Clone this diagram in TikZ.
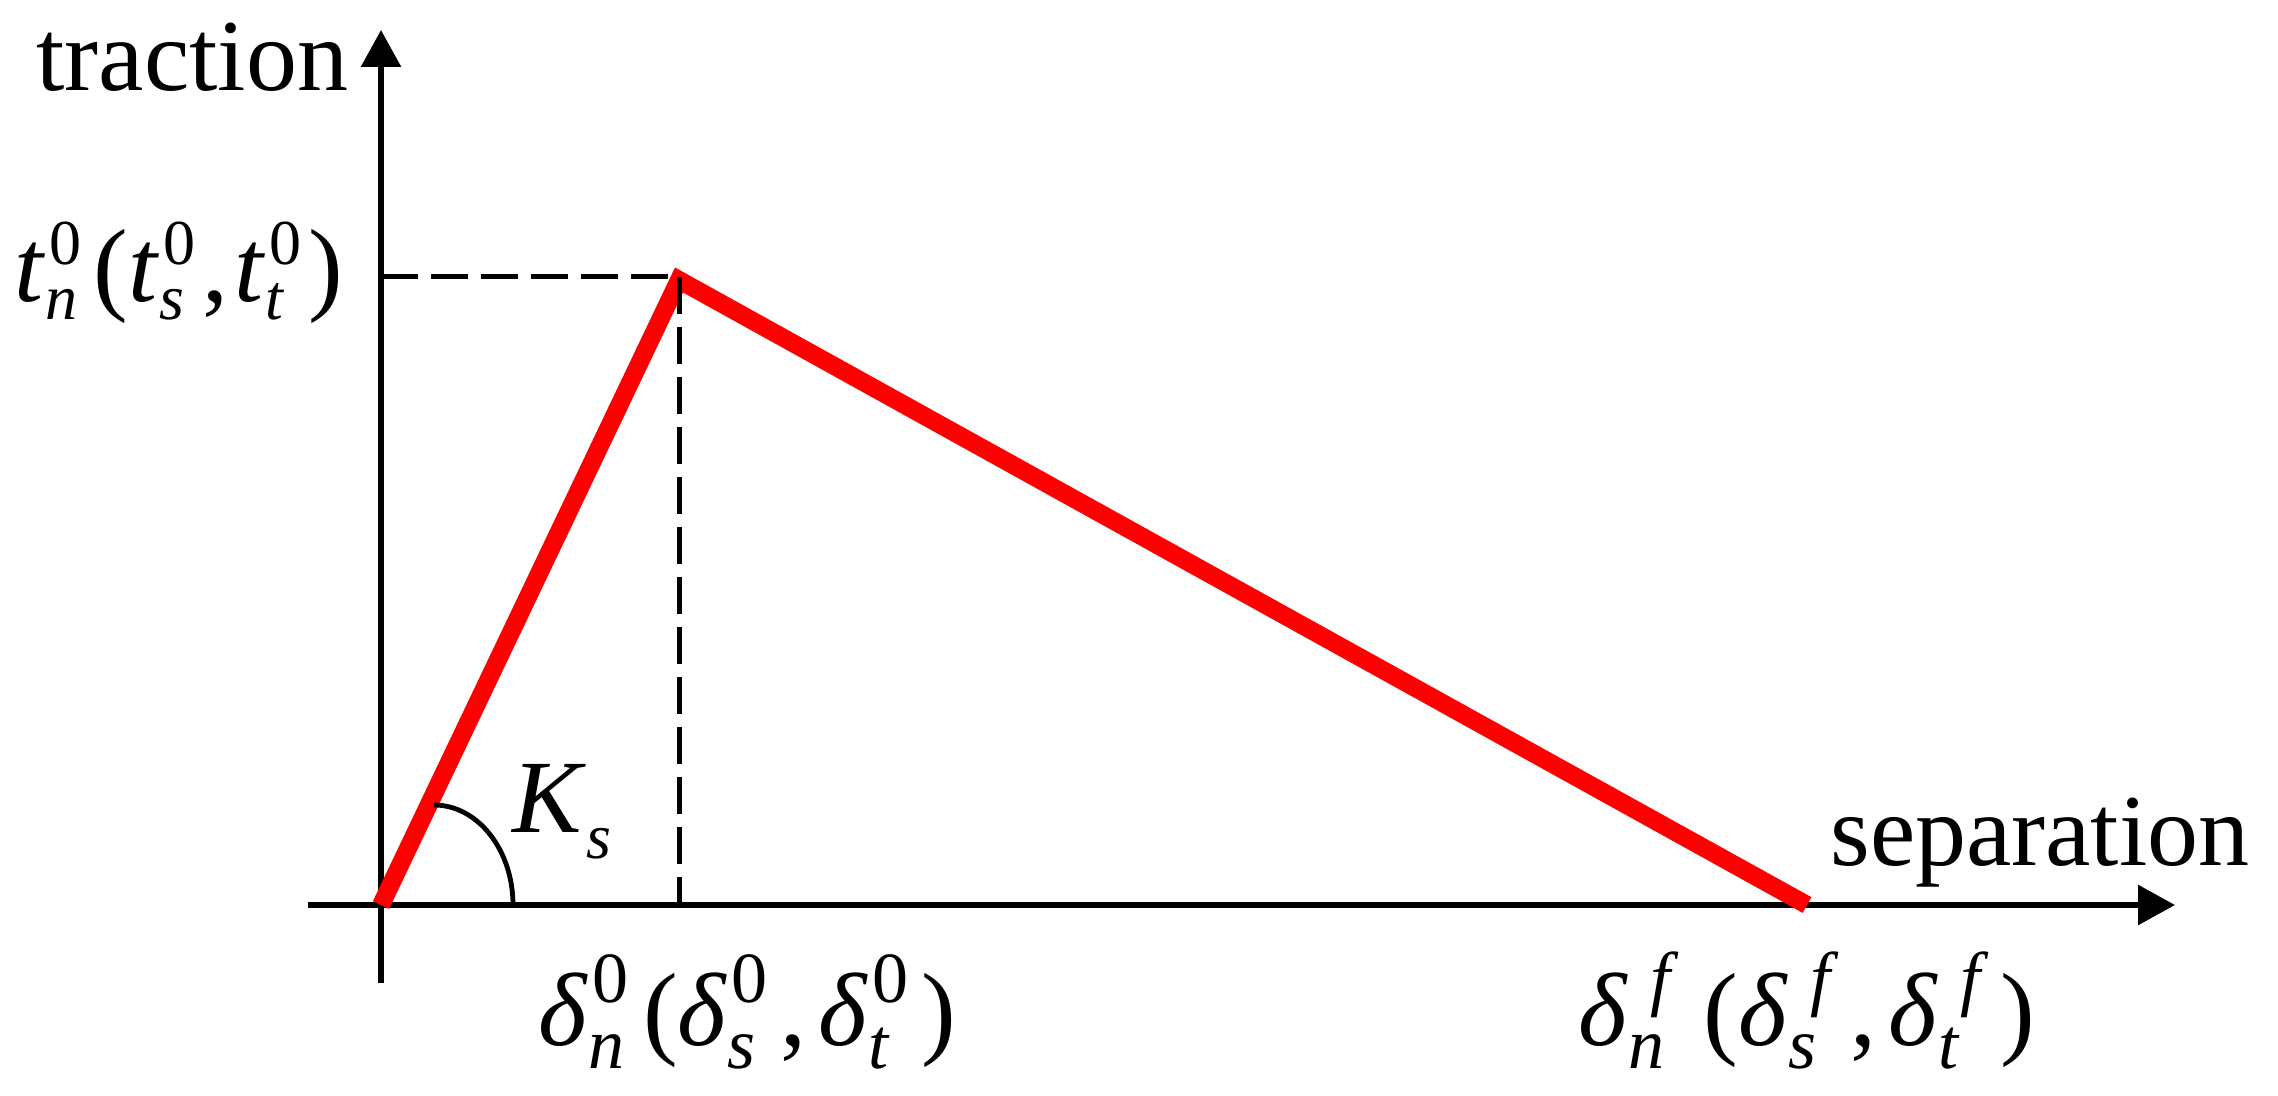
\documentclass[tikz,border=0pt]{standalone}
\usepackage{fontspec}
\setmainfont{Liberation Serif}
\usetikzlibrary{arrows.meta}
\newcommand\scr{\fontsize{32}{34}\selectfont}
\newcommand\SupRaise{0.3em}
\newcommand\SubLower{0.17em}
\newcommand\PostKern{0.1em}
\newcommand\SupSub[3]{#1\setbox0\hbox{\raisebox{\SupRaise}{\scr\kern0.06em #2}}\setbox2\hbox{\raisebox{-\SubLower}{\scr\itshape #3}}\ifdim\wd0>\wd2\relax\rlap{\box2}\box0\else\rlap{\box0}\box2\fi\kern\PostKern}
\tikzset{
  axisline/.style={line width=3pt, -{Triangle[length=18.5pt,width=19.5pt]}},
  redline/.style={line width=9pt, red},
  guide/.style={line width=2.5pt, dash pattern=on 18.5pt off 6.5pt},
  anglearc/.style={line width=2.4pt},
  lbl/.style={inner sep=0pt, font=\fontsize{52}{60}\selectfont},
}
\begin{document}
\begin{tikzpicture}[x=0.5pt,y=-0.5pt]
\useasboundingbox (0,0) rectangle (2278,1096);
\coordinate (O) at (381,905);
\coordinate (ytop) at (381,30);
\coordinate (ybot) at (381,983);
\coordinate (xleft) at (308,905);
\coordinate (xright) at (2175,905);
\coordinate (P) at (679,280);
\coordinate (Pg) at (681,277);
\coordinate (Py) at (381,277);
\coordinate (Px) at (679,905);
\coordinate (Pv) at (679,277);
\coordinate (F) at (1807,905);
\coordinate (arcstart) at (434,805);
% axes
\draw[axisline] (ybot) -- (ytop);
\draw[axisline] (xleft) -- (xright);
% curve
\draw[redline] (O) -- (P) -- (F);
% guides
\draw[guide] (Py) -- (Pg);
\draw[guide] (Pv) -- (Px);
% angle arc
\draw[anglearc] (arcstart) arc[start angle=-90, end angle=0, x radius=79, y radius=100];
% labels
\node[lbl, anchor=base west] (trac) at (36,91) {\fontsize{51}{60}\selectfont traction};
\node[lbl, anchor=base west] (sep) at (1830,865) {\fontsize{51}{60}\selectfont separation};
\node[lbl, anchor=base west] (ks) at (512,832) {\def\SubLower{0.25em}\SupSub{\textit{K}}{}{s}};
\node[lbl, anchor=base west] (tlab) at (14,302) {\def\SupRaise{0.36em}\def\PostKern{0.07em}\SupSub{\textit{t}}{0}{n}\kern0.05em(\SupSub{\textit{t}}{0}{s},\kern0.06em\SupSub{\textit{t}}{0}{t})};
\node[lbl, anchor=base west] (d0) at (538,1045) {\def\scr{\fontsize{36}{38}\selectfont}\def\SupRaise{0.41em}\def\SubLower{0.23em}\def\PostKern{0.12em}\SupSub{\textit{δ}}{0}{n}\kern0.02em(\SupSub{\textit{δ}}{0}{s},\kern0.12em\SupSub{\textit{δ}}{0}{t})};
\node[lbl, anchor=base west] (df) at (1578,1045) {\def\scr{\fontsize{36}{38}\selectfont}\def\SupRaise{0.41em}\def\SubLower{0.23em}\def\PostKern{0.12em}\SupSub{\textit{δ}}{\kern0.25em\itshape f\kern0.1em}{n}\kern0.13em(\SupSub{\textit{δ}}{\kern0.25em\itshape f\kern0.1em}{s},\kern0.12em\SupSub{\textit{δ}}{\kern0.25em\itshape f\kern0.1em}{t})};
\end{tikzpicture}
\end{document}
